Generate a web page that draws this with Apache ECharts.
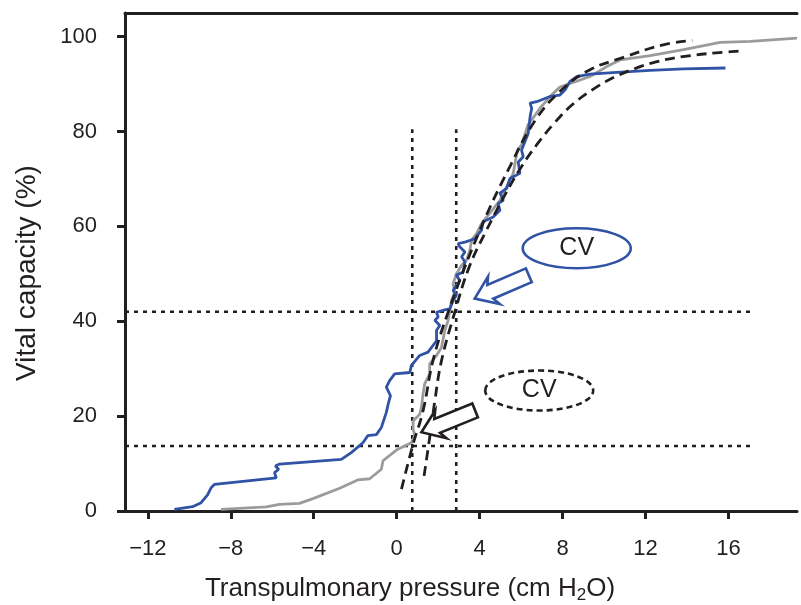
<!DOCTYPE html>
<html><head><meta charset="utf-8">
<script src="https://cdn.jsdelivr.net/npm/echarts@6/dist/echarts.min.js"></script>
<style>html,body{margin:0;padding:0;background:#fff;overflow:hidden}#c{width:801px;height:605px}</style>
</head><body><div id="c"></div>
<script>
const xTicks = [-12, -8, -4, 0, 4, 8, 12, 16];
const yTicks = [0, 20, 40, 60, 80, 100];

const blueX = [-10.72,-9.84,-9.43,-9.12,-8.95,-8.79,-5.81,-5.89,-5.69,-5.85,-5.65,-2.67,-2.19,-1.63,-1.39,-0.98,-0.74,-0.50,-0.39,-0.30,-0.50,-0.34,-0.10,0.63,0.71,1.11,1.51,1.92,1.92,2.08,1.84,2.00,1.92,2.32,2.56,2.72,2.88,2.72,2.88,3.04,2.88,3.20,3.29,3.13,3.29,3.04,2.96,3.29,3.77,4.09,4.17,4.65,4.98,4.89,5.14,4.98,5.30,5.46,5.94,5.86,6.10,6.02,6.34,6.43,6.51,6.43,6.75,7.39,7.87,8.12,8.36,8.68,9.32,10.61,12.22,13.83,15.85];
const blueY = [0.36,0.9,1.75,3.4,4.9,5.6,7.0,8.1,8.8,9.5,9.9,10.9,12.3,14.4,15.9,16.1,17.6,20.8,22.9,24.3,26.1,27.5,28.9,29.2,30.7,32.8,33.5,35.9,38.1,39.1,40.2,40.9,41.9,42.4,42.6,44.4,45.5,46.5,47.6,48.6,49.7,50.4,52.5,53.6,54.6,55.7,56.4,56.7,57.4,59.2,61.0,62.0,63.4,64.8,65.5,67.0,68.0,70.1,71.2,73.6,74.7,76.1,79.6,83.1,84.9,86.0,86.3,87.4,87.7,88.8,90.6,91.6,92.1,92.5,92.9,93.2,93.4];

const grayX = [-8.47,-6.29,-5.65,-4.69,-4.04,-2.75,-1.88,-1.30,-0.74,-0.66,0.0,0.71,0.87,0.79,0.79,1.11,1.19,1.27,1.35,1.59,1.59,1.92,2.16,2.32,2.48,2.56,2.64,2.80,2.72,2.88,3.13,3.37,3.53,3.61,3.85,4.09,4.98,5.62,5.82,6.02,6.33,6.96,7.55,7.87,8.68,9.32,10.13,10.77,12.22,13.83,15.6,17.05,19.3];
const grayY = [0.36,0.85,1.4,1.6,2.6,4.8,6.55,6.8,8.8,10.6,12.9,14.4,15.9,17.3,19.0,20.4,21.8,24.7,26.8,28.9,31.0,32.8,34.5,38.1,40.2,42.3,44.4,46.2,47.9,50.0,51.8,52.9,55.0,57.1,58.5,60.6,65.5,71.2,76.1,77.2,81.4,85.2,88.1,89.4,90.6,91.6,93.7,95.1,96.0,97.3,98.8,99.0,99.7];

const fitAX = [0.23,0.79,1.27,1.75,2.48,4.01,5.5,6.7,7.9,9.3,10.9,12.85,14.25];
const fitAY = [4.6,14.1,21.1,31.7,41.9,59.2,73.0,82.5,88.6,93.0,95.6,98.3,99.2];

const fitBX = [1.32,1.59,1.84,2.16,2.80,3.5,4.33,5.2,6.0,6.8,7.6,8.5,9.5,10.5,11.5,12.5,13.8,15.4,16.7];
const fitBY = [7.4,15.5,23.3,31.7,41.9,51.5,59.2,66.5,72.5,77.5,81.8,85.8,89.0,91.5,93.3,94.7,95.8,96.6,97.0];

const refVX = [0.75, 2.87];
const refVTop = 80.5;
const refHY = [42.0, 13.7];
const refHLeft = -13.1;
const refHRight = 17.2;

const cvText = ['CV', 'CV'];
const cvX = [8.68, 6.87];
const cvY = [55.4, 25.4];
const arrowTipX = [3.76, 1.19];
const arrowTipY = [44.8, 16.6];
const arrowTailX = [6.37, 3.78];
const arrowTailY = [49.7, 21.2];

const INK = '#231f20';
const BLUE = '#3153a5';
const GRAY = '#9b9b9b';
const FONT = 'Liberation Sans, Arial, Helvetica, sans-serif';

const zip = (a, b) => a.map((v, i) => [v, b[i]]);

const series = [];
refVX.forEach(x => series.push({
  type: 'line', data: [[x, 0], [x, refVTop]], showSymbol: false, silent: true,
  lineStyle: { color: INK, width: 2.6, type: [4, 5] }, z: 2
}));
refHY.forEach(y => series.push({
  type: 'line', data: [[refHLeft, y], [refHRight, y]], showSymbol: false, silent: true,
  lineStyle: { color: INK, width: 2.6, type: [4, 5] }, z: 2
}));
series.push({ type: 'line', data: zip(grayX, grayY), showSymbol: false, lineStyle: { color: GRAY, width: 2.8 }, z: 3 });
series.push({ type: 'line', data: zip(blueX, blueY), showSymbol: false, lineStyle: { color: BLUE, width: 2.8 }, z: 4 });
series.push({ type: 'line', data: zip(fitAX, fitAY), smooth: 0.4, showSymbol: false, lineStyle: { color: INK, width: 2.8, type: [10, 6] }, z: 5 });
series.push({ type: 'line', data: zip(fitBX, fitBY), smooth: 0.4, showSymbol: false, lineStyle: { color: INK, width: 2.8, type: [10, 6] }, z: 5 });

const axisLineStyle = { color: INK, width: 3 };
const option = {
  animation: false,
  backgroundColor: '#fff',
  grid: { left: 125, right: 4, top: 13, bottom: 94, outerBoundsMode: 'none', containLabel: false },
  xAxis: [{
    type: 'value', min: -13.1, max: 19.3, position: 'bottom',
    axisLine: { show: true, onZero: false, lineStyle: axisLineStyle },
    axisTick: { show: true, length: 8, customValues: xTicks, lineStyle: axisLineStyle },
    axisLabel: { customValues: xTicks, formatter: v => String(v).replace('-', '\u2212'), fontSize: 22, color: INK, margin: 27, fontFamily: FONT },
    splitLine: { show: false },
    name: '{a|Transpulmonary pressure (cm H}{s|2}{a|O)}',
    nameLocation: 'middle', nameGap: 63,
    nameTextStyle: {
      padding: [0, 102, 0, 0],
      rich: {
        a: { fontSize: 26, color: INK, fontFamily: FONT, lineHeight: 30 },
        s: { fontSize: 17, color: INK, fontFamily: FONT, lineHeight: 16, verticalAlign: 'bottom' }
      }
    }
  }, {
    type: 'value', min: -13.1, max: 19.3, position: 'top',
    axisLine: { show: true, onZero: false, lineStyle: axisLineStyle },
    axisTick: { show: false }, axisLabel: { show: false }, splitLine: { show: false }
  }],
  yAxis: {
    type: 'value', min: 0, max: 105,
    axisLine: { show: true, onZero: false, lineStyle: axisLineStyle },
    axisTick: { show: true, length: 8, customValues: yTicks, lineStyle: axisLineStyle },
    axisLabel: { customValues: yTicks, fontSize: 22, color: INK, margin: 28, fontFamily: FONT },
    splitLine: { show: false },
    name: 'Vital capacity (%)', nameLocation: 'middle', nameGap: 84,
    nameTextStyle: { fontSize: 28, color: INK, fontFamily: FONT, padding: [0, 22, 0, 0] }
  },
  series: series
};

const chart = echarts.init(document.getElementById('c'));
chart.setOption(option);

function px(p) { return chart.convertToPixel({ gridIndex: 0 }, p); }
function arrowPts(tip, tail, w, hw, hl) {
  const dx = tip[0] - tail[0], dy = tip[1] - tail[1];
  const L = Math.hypot(dx, dy);
  const ux = dx / L, uy = dy / L, nx = -uy, ny = ux;
  const bx = tip[0] - ux * hl, by = tip[1] - uy * hl;
  return [
    [tail[0] + nx * w, tail[1] + ny * w],
    [bx + nx * w, by + ny * w],
    [bx + nx * hw - ux * 4, by + ny * hw - uy * 4],
    [tip[0], tip[1]],
    [bx - nx * hw - ux * 4, by - ny * hw - uy * 4],
    [bx - nx * w, by - ny * w],
    [tail[0] - nx * w, tail[1] - ny * w]
  ];
}

const graphics = [];
const styles = [
  { stroke: BLUE, dash: null },
  { stroke: INK, dash: [6, 4] }
];
cvText.forEach((t, i) => {
  const c = px([cvX[i], cvY[i]]);
  graphics.push({
    type: 'ellipse', shape: { cx: c[0], cy: c[1], rx: 54, ry: 20 }, z: 10,
    style: { fill: 'none', stroke: styles[i].stroke, lineWidth: 2.6, lineDash: styles[i].dash }
  });
  graphics.push({
    type: 'text', x: c[0], y: c[1], z: 11,
    style: { text: t, fill: INK, font: '25px ' + FONT, align: 'center', verticalAlign: 'middle' }
  });
  const tip = px([arrowTipX[i], arrowTipY[i]]);
  const tail = px([arrowTailX[i], arrowTailY[i]]);
  graphics.push({
    type: 'polygon', z: 12, shape: { points: arrowPts(tip, tail, 7.5, 15, 17) },
    style: { fill: '#fff', stroke: styles[i].stroke, lineWidth: 2.6, lineJoin: 'miter' }
  });
});
chart.setOption({ graphic: graphics });
</script>
</body></html>
